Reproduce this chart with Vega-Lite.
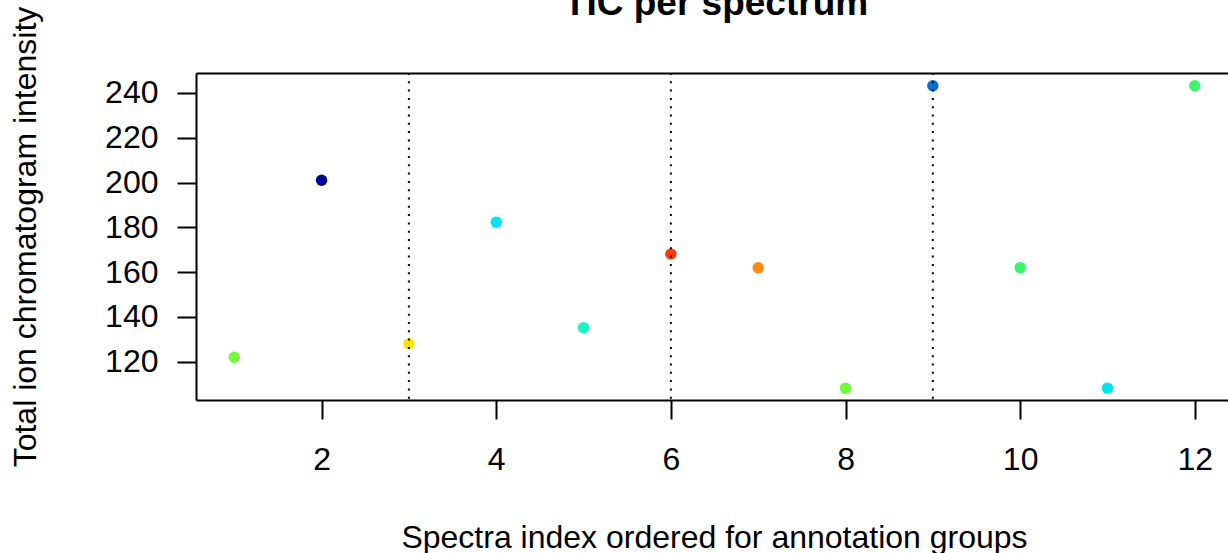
{
  "$schema": "https://vega.github.io/schema/vega-lite/v6.json",
  "width": 1032,
  "height": 327,
  "autosize": "none",
  "padding": {"left": 196, "top": 73, "right": 0, "bottom": 153},
  "background": "white",
  "title": {
    "text": "TIC per spectrum",
    "font": "Liberation Sans",
    "fontSize": 37,
    "fontWeight": "bold",
    "color": "black",
    "baseline": "alphabetic",
    "anchor": "middle",
    "offset": 20,
    "dy": 66,
    "dx": 4
  },
  "datasets": {
    "points": [
      {"index": 1, "tic": 122.0, "group": "G6"},
      {"index": 2, "tic": 201.0, "group": "G1"},
      {"index": 3, "tic": 128.0, "group": "G7"},
      {"index": 4, "tic": 182.3, "group": "G3"},
      {"index": 5, "tic": 135.2, "group": "G4"},
      {"index": 6, "tic": 168.1, "group": "G9"},
      {"index": 7, "tic": 161.9, "group": "G8"},
      {"index": 8, "tic": 108.2, "group": "G6"},
      {"index": 9, "tic": 243.2, "group": "G2"},
      {"index": 10, "tic": 162.0, "group": "G5"},
      {"index": 11, "tic": 108.2, "group": "G3"},
      {"index": 12, "tic": 243.2, "group": "G5"}
    ],
    "separators": [
      {"pos": 3},
      {"pos": 6},
      {"pos": 9}
    ]
  },
  "layer": [
    {
      "data": {"name": "points"},
      "mark": {"type": "circle", "size": 132, "opacity": 1},
      "encoding": {
        "x": {
          "field": "index",
          "type": "quantitative",
          "scale": {"domain": [0.562, 12.38], "nice": false, "zero": false},
          "axis": {
            "orient": "bottom",
            "values": [2, 4, 6, 8, 10, 12],
            "labelBaseline": "alphabetic",
            "labelPadding": 50,
            "title": "Spectra index ordered for annotation groups",
            "titleX": 518,
            "titleY": 147,
            "titleAlign": "center",
            "titleBaseline": "alphabetic"
          }
        },
        "y": {
          "field": "tic",
          "type": "quantitative",
          "scale": {"domain": [102.9, 248.9], "nice": false, "zero": false},
          "axis": {
            "values": [120, 140, 160, 180, 200, 220, 240],
            "title": "Total ion chromatogram intensity",
            "titleX": -161,
            "titleY": 163.5,
            "titleAngle": 270,
            "titleAlign": "center",
            "titleBaseline": "alphabetic",
            "labelAlign": "right",
            "labelBaseline": "middle",
            "labelPadding": 19
          }
        },
        "color": {
          "field": "group",
          "type": "nominal",
          "legend": null,
          "scale": {
            "domain": ["G1", "G2", "G3", "G4", "G5", "G6", "G7", "G8", "G9"],
            "range": ["#00008F", "#0B6FD1", "#00E4F2", "#1CF5C2", "#3CF56E", "#72FA3A", "#FAE400", "#FF8A10", "#FF3A0A"]
          }
        }
      }
    },
    {
      "data": {"name": "separators"},
      "mark": {"type": "rule", "color": "black", "strokeWidth": 2, "strokeDash": [2, 6.3]},
      "encoding": {
        "x": {
          "field": "pos",
          "type": "quantitative",
          "axis": {
            "orient": "top",
            "labels": false,
            "ticks": false,
            "domain": true,
            "title": null,
            "grid": false,
            "minExtent": 0,
            "maxExtent": 0
          }
        }
      }
    }
  ],
  "resolve": {"axis": {"x": "independent"}},
  "config": {
    "view": {"stroke": null},
    "axis": {
      "grid": false,
      "domainColor": "black",
      "domainWidth": 2,
      "tickColor": "black",
      "tickWidth": 2,
      "tickSize": 19,
      "labelFont": "Liberation Sans",
      "labelFontSize": 32,
      "labelColor": "black",
      "titleFont": "Liberation Sans",
      "titleFontSize": 32,
      "titleFontWeight": "normal",
      "titleColor": "black",
      "labelFlush": false,
      "labelOverlap": false
    }
  }
}
